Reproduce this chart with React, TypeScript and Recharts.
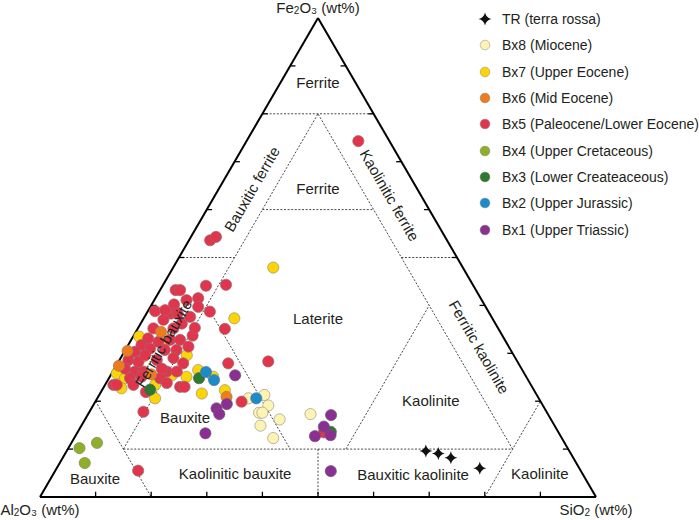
import React from 'react';
import {
  ScatterChart,
  Scatter,
  XAxis,
  YAxis,
  ReferenceLine,
  ReferenceDot,
  Legend,
} from 'recharts';

// Each sample: [Al2O3, SiO2, Fe2O3] in wt%
type Comp = [number, number, number];

const TR_TERRA_ROSSA: Comp[] = [
  [25.8, 64.6, 9.6], [23.8, 67.1, 9.1], [22.0, 69.8, 8.2], [17.9, 76.1, 6.0],
];

const BX8_MIOCENE: Comp[] = [
  [52.2, 27.2, 20.6], [49.0, 29.7, 21.3], [49.4, 31.5, 19.1], [51.8, 30.6, 17.6],
  [51.2, 31.2, 17.6], [52.9, 32.2, 14.9], [48.8, 35.0, 16.2], [51.9, 35.8, 12.3],
  [42.7, 40.0, 17.3],
];

const BX7_UPPER_EOCENE: Comp[] = [
  [34.1, 18.0, 47.9], [46.4, 16.3, 37.3], [65.4, 1.1, 33.5], [66.8, 3.9, 29.3],
  [73.3, 0.9, 25.8], [72.3, 2.9, 24.8], [63.6, 11.0, 25.4], [60.1, 18.3, 21.6],
  [58.3, 15.2, 26.5], [55.6, 22.1, 22.3], [69.0, 10.4, 20.6], [58.8, 11.6, 29.6],
  [74.0, 3.3, 22.7], [56.3, 18.6, 25.1], [60.8, 6.4, 32.8], [61.1, 13.8, 25.1],
  [67.6, 9.0, 23.4],
];

const BX6_MID_EOCENE: Comp[] = [
  [61.0, 4.5, 34.5], [69.0, 0.5, 30.5], [72.1, 0.5, 27.4], [67.2, 7.2, 25.6],
  [56.0, 23.1, 20.9],
];

const BX5_PALEOCENE_LOWER_EOCENE: Comp[] = [
  [5.6, 20.1, 74.3], [42.6, 3.8, 53.6], [41.2, 4.5, 54.3], [54.0, 2.8, 43.2],
  [53.2, 3.6, 43.2], [48.1, 7.8, 44.1], [44.4, 11.3, 44.3], [53.1, 5.8, 41.1],
  [50.8, 7.7, 41.5], [51.7, 8.6, 39.7], [55.8, 4.0, 40.2], [57.3, 4.4, 38.3],
  [56.1, 5.6, 38.3], [59.9, 1.3, 38.8], [50.1, 11.2, 38.7], [54.2, 8.2, 37.6],
  [59.3, 3.7, 37.0], [56.4, 7.4, 36.2], [62.0, 2.8, 35.2], [58.4, 6.4, 35.2],
  [49.2, 15.7, 35.1], [64.0, 2.9, 33.1], [65.9, 2.4, 31.7], [62.5, 5.1, 32.4],
  [60.2, 7.0, 32.8], [58.4, 8.8, 32.8], [55.7, 10.6, 33.7], [67.8, 1.9, 30.3],
  [64.7, 4.3, 31.0], [62.2, 7.1, 30.7], [60.1, 9.2, 30.7], [69.8, 1.6, 28.6],
  [68.2, 3.6, 28.2], [64.7, 6.7, 28.6], [61.5, 9.5, 29.0], [60.3, 11.8, 27.9],
  [71.3, 1.9, 26.8], [69.8, 4.0, 26.2], [68.3, 5.5, 26.2], [64.1, 9.7, 26.2],
  [62.3, 11.5, 26.2], [52.2, 19.9, 27.9], [71.4, 3.8, 24.8], [66.0, 9.2, 24.8],
  [69.2, 5.7, 25.1], [63.3, 13.7, 23.0], [62.5, 14.5, 23.0], [75.1, 1.5, 23.4],
  [74.5, 2.1, 23.4], [71.5, 5.1, 23.4], [53.8, 26.3, 19.9], [44.8, 26.9, 28.3],
  [72.5, 9.7, 17.8], [79.6, 14.9, 5.5], [42.2, 44.3, 13.5], [65.3, 10.9, 23.8],
  [66.3, 4.1, 29.6], [64.7, 8.5, 26.8], [57.6, 11.0, 31.4], [58.0, 3.0, 39.0],
  [54.5, 10.2, 35.3], [70.0, 8.1, 21.9],
];

const BX4_UPPER_CRETACEOUS: Comp[] = [
  [87.8, 2.0, 10.2], [84.1, 4.6, 11.3], [88.4, 4.5, 7.1],
];

const BX3_LOWER_CRETACEOUS: Comp[] = [
  [69.0, 8.6, 22.4], [59.0, 16.2, 24.8], [40.9, 45.5, 13.6],
];

const BX2_UPPER_JURASSIC: Comp[] = [
  [57.1, 16.8, 26.1], [56.5, 19.1, 24.4], [50.8, 28.6, 20.6],
];

const BX1_UPPER_TRIASSIC: Comp[] = [
  [52.2, 22.4, 25.4], [56.7, 23.9, 19.4], [59.0, 22.5, 18.5], [59.1, 23.6, 17.3],
  [63.6, 23.1, 13.3], [39.1, 43.8, 17.1], [41.6, 43.7, 14.7], [44.2, 43.1, 12.7],
  [41.3, 45.8, 12.9], [45.0, 49.6, 5.4],
];

// Classification field boundaries, as pairs of [Al2O3, SiO2, Fe2O3]
const BOUNDARIES: [Comp, Comp][] = [
  [[20, 0, 80], [0, 20, 80]],
  [[80, 10, 10], [10, 10, 80]],
  [[10, 80, 10], [10, 10, 80]],
  [[30, 10, 60], [10, 30, 60]],
  [[50, 0, 50], [40, 10, 50]],
  [[10, 40, 50], [0, 50, 50]],
  [[50, 10, 40], [50, 40, 10]],
  [[40, 50, 10], [10, 50, 40]],
  [[80, 10, 10], [10, 80, 10]],
  [[80, 0, 20], [80, 20, 0]],
  [[20, 80, 0], [0, 80, 20]],
  [[45, 45, 10], [50, 50, 0]],
];

const TICKS = [10, 20, 30, 40, 50, 60, 70, 80, 90];

const FIELD_NAMES = [
  'Ferrite', 'Ferrite', 'Bauxitic ferrite', 'Kaolinitic ferrite', 'Ferritic bauxite',
  'Ferritic kaolinite', 'Laterite', 'Kaolinite', 'Bauxite', 'Bauxite',
  'Kaolinitic bauxite', 'Bauxitic kaolinite', 'Kaolinite',
];

// layout for field names (chart x/y units and rotation)
const FIELD_LAYOUT = [
  { x: 50, y: 86.6, a: 0 },
  { x: 50, y: 64.4, a: 0 },
  { x: 38.1, y: 64.3, a: -60 },
  { x: 62.9, y: 63.0, a: 60 },
  { x: 22.2, y: 32.1, a: -60 },
  { x: 79.0, y: 31.3, a: 60 },
  { x: 50, y: 37.2, a: 0 },
  { x: 70.3, y: 20.2, a: 0 },
  { x: 26.1, y: 16.5, a: 0 },
  { x: 9.9, y: 3.8, a: 0 },
  { x: 35.1, y: 5.0, a: 0 },
  { x: 67.1, y: 4.8, a: 0 },
  { x: 89.9, y: 5.0, a: 0 },
];

const FONT = "'Liberation Sans', Arial, Helvetica, sans-serif";
const INK = '#231f20';

const toXY = ([al, si, fe]: Comp) => {
  const t = al + si + fe;
  return { x: ((si + fe / 2) / t) * 100, y: (fe / t) * 100 };
};

type SeriesDef = { name: string; data: Comp[]; fill: string; stroke: string; star?: boolean };

const SERIES: SeriesDef[] = [
  { name: 'TR (terra rossa)', data: TR_TERRA_ROSSA, fill: '#111', stroke: '#111', star: true },
  { name: 'Bx8 (Miocene)', data: BX8_MIOCENE, fill: '#fdf4b4', stroke: '#9a9a8a' },
  { name: 'Bx7 (Upper Eocene)', data: BX7_UPPER_EOCENE, fill: '#fcd508', stroke: '#9a9070' },
  { name: 'Bx6 (Mid Eocene)', data: BX6_MID_EOCENE, fill: '#ee7c1c', stroke: '#9a7a60' },
  { name: 'Bx5 (Paleocene/Lower Eocene)', data: BX5_PALEOCENE_LOWER_EOCENE, fill: '#e0354c', stroke: '#9a6a6a' },
  { name: 'Bx4 (Upper Cretaceous)', data: BX4_UPPER_CRETACEOUS, fill: '#8fae2a', stroke: '#7a8a60' },
  { name: 'Bx3 (Lower Createaceous)', data: BX3_LOWER_CRETACEOUS, fill: '#2e7830', stroke: '#4a6a4a' },
  { name: 'Bx2 (Upper Jurassic)', data: BX2_UPPER_JURASSIC, fill: '#1b8bc9', stroke: '#5a7a90' },
  { name: 'Bx1 (Upper Triassic)', data: BX1_UPPER_TRIASSIC, fill: '#8c2f92', stroke: '#6a5a70' },
];

// drawing order (back to front)
const DRAW_ORDER = [1, 2, 4, 3, 5, 6, 7, 8, 0];

const starPath = (cx: number, cy: number, r: number) => {
  const k = r * 0.18;
  return `M${cx},${cy - r} Q${cx + k},${cy - k} ${cx + r},${cy} Q${cx + k},${cy + k} ${cx},${cy + r} Q${cx - k},${cy + k} ${cx - r},${cy} Q${cx - k},${cy - k} ${cx},${cy - r} Z`;
};

const makeShape = (s: SeriesDef) => (p: any) => {
  if (p == null || p.cx == null) return <g />;
  if (s.star) return <path d={starPath(p.cx, p.cy, 6.5)} fill={s.fill} stroke="none" />;
  return <circle cx={p.cx} cy={p.cy} r={5.6} fill={s.fill} stroke={s.stroke} strokeWidth={0.7} />;
};

const centerOf = (p: any) => {
  const vb = (p && p.viewBox) || {};
  return { cx: (vb.x ?? 0) + (vb.width ?? 0) / 2, cy: (vb.y ?? 0) + (vb.height ?? 0) / 2 };
};

const fieldLabel = (text: string, angle: number) => (p: any) => {
  const { cx, cy } = centerOf(p);
  return (
    <text
      x={cx}
      y={cy}
      textAnchor="middle"
      dominantBaseline="central"
      fontFamily={FONT}
      fontSize={15}
      fill={INK}
      transform={angle ? `rotate(${angle} ${cx} ${cy})` : undefined}
    >
      {text}
    </text>
  );
};

const axisTitle = (pre: string, post: string, dy: number) => (p: any) => {
  const { cx, cy } = centerOf(p);
  return (
    <text x={cx} y={cy + dy} textAnchor="middle" dominantBaseline="central" fontFamily={FONT} fontSize={15} fill={INK}>
      {pre}
      <tspan fontSize={10} dy={3}>2</tspan>
      <tspan dy={-3}>{post}</tspan>
    </text>
  );
};

const renderLegend = () => (
  <div style={{ fontFamily: FONT, fontSize: 14, color: INK }}>
    {SERIES.map((s) => (
      <div key={s.name} style={{ height: 26.3, display: 'flex', alignItems: 'center', whiteSpace: 'nowrap' }}>
        <svg width={16} height={16} style={{ marginRight: 9, flex: 'none' }}>
          {s.star ? (
            <path d={starPath(8, 8, 6.5)} fill={s.fill} />
          ) : (
            <circle cx={8} cy={8} r={4.8} fill={s.fill} stroke={s.stroke} strokeWidth={0.6} />
          )}
        </svg>
        <span>{s.name}</span>
      </div>
    ))}
  </div>
);

const seg = (a: Comp, b: Comp) => {
  const p = toXY(a);
  const q = toXY(b);
  return [{ x: p.x, y: p.y }, { x: q.x, y: q.y }];
};

export default function App() {
  const tickSegs: { x: number; y: number }[][] = [];
  TICKS.forEach((t) => {
    tickSegs.push([{ x: t, y: 0 }, { x: t, y: 1.1 }]);
    tickSegs.push([{ x: t / 2, y: t }, { x: t / 2 + 0.95, y: t }]);
    tickSegs.push([{ x: 100 - t / 2, y: t }, { x: 100 - t / 2 - 0.95, y: t }]);
  });

  return (
    <div style={{ width: 699, height: 520, position: 'relative', fontFamily: FONT }}>
      <style>{'body{margin:0}'}</style>
      <ScatterChart width={699} height={520} margin={{ top: 18, right: 103, bottom: 23, left: 40 }}>
        <XAxis type="number" dataKey="x" domain={[0, 100]} hide allowDataOverflow />
        <YAxis type="number" dataKey="y" domain={[0, 100]} hide allowDataOverflow />

        {BOUNDARIES.map(([a, b], i) => (
          <ReferenceLine
            key={`b${i}`}
            segment={seg(a, b)}
            stroke="#333"
            strokeWidth={0.9}
            strokeDasharray="2 1.6"
            ifOverflow="visible"
          />
        ))}
        {tickSegs.map((s, i) => (
          <ReferenceLine key={`t${i}`} segment={s} stroke="#000" strokeWidth={1.3} ifOverflow="visible" />
        ))}
        <ReferenceLine segment={[{ x: 0, y: 0 }, { x: 100, y: 0 }]} stroke="#000" strokeWidth={2} ifOverflow="visible" />
        <ReferenceLine segment={[{ x: 0, y: 0 }, { x: 50, y: 100 }]} stroke="#000" strokeWidth={2} ifOverflow="visible" />
        <ReferenceLine segment={[{ x: 100, y: 0 }, { x: 50, y: 100 }]} stroke="#000" strokeWidth={2} ifOverflow="visible" />

        {DRAW_ORDER.map((idx) => {
          const s = SERIES[idx];
          return (
            <Scatter
              key={s.name}
              name={s.name}
              data={s.data.map(toXY)}
              shape={makeShape(s)}
              isAnimationActive={false}
            />
          );
        })}

        {FIELD_NAMES.map((name, i) => (
          <ReferenceDot
            key={`f${i}`}
            x={FIELD_LAYOUT[i].x}
            y={FIELD_LAYOUT[i].y}
            r={0}
            fill="none"
            stroke="none"
            ifOverflow="visible"
            label={fieldLabel(name, FIELD_LAYOUT[i].a)}
          />
        ))}
        <ReferenceDot x={50} y={100} r={0} fill="none" stroke="none" ifOverflow="visible" label={axisTitle('Fe', 'O\u2083 (wt%)', -11)} />
        <ReferenceDot x={0} y={0} r={0} fill="none" stroke="none" ifOverflow="visible" label={axisTitle('Al', 'O\u2083 (wt%)', 12)} />
        <ReferenceDot x={100} y={0} r={0} fill="none" stroke="none" ifOverflow="visible" label={axisTitle('SiO', ' (wt%)', 12)} />

        <Legend
          layout="vertical"
          align="center"
          verticalAlign="middle"
          content={renderLegend}
          wrapperStyle={{ left: 477, top: 6, width: 222, height: 240 }}
        />
      </ScatterChart>
    </div>
  );
}
